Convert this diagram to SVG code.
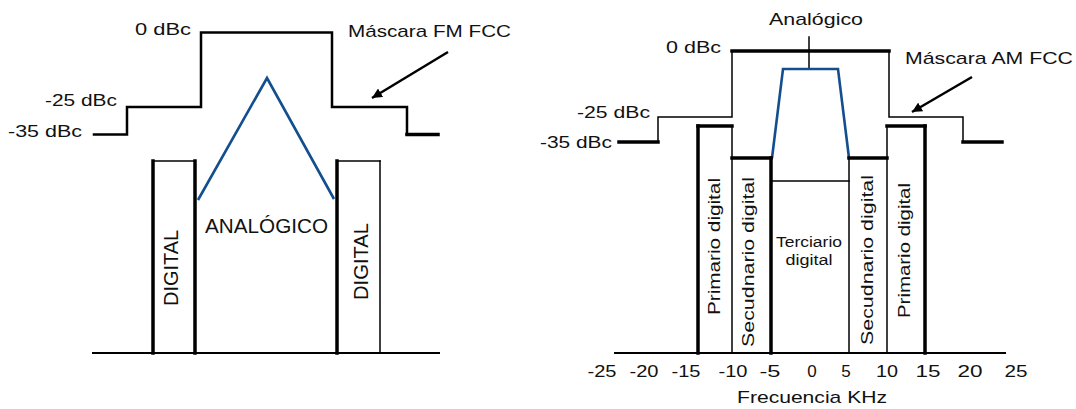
<svg xmlns="http://www.w3.org/2000/svg" width="1076" height="409" viewBox="0 0 1076 409">
  <style>
    text { font-family: "Liberation Sans", Arial, sans-serif; fill: #111; }
    .lbl { font-size: 17px; }
    .big { font-size: 20px; }
    .sm { font-size: 14px; }
    .ln { fill: none; stroke: #000; stroke-linecap: square; }
    .thin { stroke-width: 1.5; }
    .mid { stroke-width: 2.5; }
    .thick { stroke-width: 3.5; }
    .blue { fill: none; stroke: #134f8f; stroke-width: 2.6; stroke-linejoin: miter; }
    .arrow { fill: none; stroke: #000; stroke-width: 2.5; marker-end: url(#ah); }
  </style>
  <defs>
    <marker id="ah" markerUnits="userSpaceOnUse" markerWidth="12" markerHeight="10" refX="10" refY="5" orient="auto">
      <path d="M0,0 L10,5 L0,10 Z" fill="#000"/>
    </marker>
  </defs>
  <rect width="1076" height="409" fill="#fff"/>

  <!-- LEFT: FM hybrid -->
  <g id="fm-mask">
    <polyline class="ln mid" points="94,134.5 127,134.5 127,107 201,107 201,32.5 332,32.5 332,107 407,107 407,134.5"/>
    <line class="ln thick" x1="407" y1="134.5" x2="438" y2="134.5"/>
  </g>
  <g id="fm-labels">
    <text class="lbl" x="135" y="35" textLength="56" lengthAdjust="spacingAndGlyphs">0 dBc</text>
    <text class="lbl" x="45" y="106" textLength="72" lengthAdjust="spacingAndGlyphs">-25 dBc</text>
    <text class="lbl" x="8" y="137" textLength="74" lengthAdjust="spacingAndGlyphs">-35 dBc</text>
    <text class="lbl" x="348" y="37" textLength="163" lengthAdjust="spacingAndGlyphs">Máscara FM FCC</text>
  </g>
  <g id="fm-digital-left">
    <line class="ln thin" x1="153" y1="161" x2="195" y2="161"/>
    <line class="ln thick" x1="153" y1="161" x2="153" y2="353"/>
    <line class="ln thick" x1="195" y1="161" x2="195" y2="353"/>
    <text class="big" transform="translate(178,268) rotate(-90)" text-anchor="middle" textLength="76" lengthAdjust="spacingAndGlyphs">DIGITAL</text>
  </g>
  <g id="fm-digital-right">
    <line class="ln thin" x1="337" y1="161" x2="380" y2="161"/>
    <line class="ln thick" x1="337" y1="161" x2="337" y2="353"/>
    <line class="ln thin" x1="380" y1="161" x2="380" y2="353"/>
    <text class="big" transform="translate(368,261.5) rotate(-90)" text-anchor="middle" textLength="77" lengthAdjust="spacingAndGlyphs">DIGITAL</text>
  </g>
  <g id="fm-analog">
    <polyline class="blue" points="198,200 267,78 334,199"/>
    <text class="big" x="205" y="233" textLength="123" lengthAdjust="spacingAndGlyphs">ANALÓGICO</text>
  </g>
  <g id="fm-axis">
    <line class="ln" stroke-width="2" x1="93" y1="353" x2="439" y2="353"/>
  </g>

  <!-- RIGHT: AM hybrid -->
  <g id="am-mask">
    <line class="ln thick" x1="619" y1="142" x2="658" y2="142"/>
    <polyline class="ln thin" points="658,142 658,117 732,117 732,51"/>
    <line class="ln thick" x1="732" y1="51" x2="889" y2="51"/>
    <polyline class="ln thin" points="889,51 889,117 963,117 963,142"/>
    <line class="ln thick" x1="963" y1="142" x2="1002" y2="142"/>
  </g>
  <g id="am-labels">
    <text class="lbl" x="666" y="53" textLength="55" lengthAdjust="spacingAndGlyphs">0 dBc</text>
    <text class="lbl" x="577" y="118" textLength="73" lengthAdjust="spacingAndGlyphs">-25 dBc</text>
    <text class="lbl" x="540" y="148" textLength="72" lengthAdjust="spacingAndGlyphs">-35 dBc</text>
    <text class="lbl" x="905" y="64" textLength="168" lengthAdjust="spacingAndGlyphs">Máscara AM FCC</text>
  </g>
  <g id="am-analog">
    <line class="ln thin" x1="809" y1="37" x2="809" y2="69"/>
    <polyline class="blue" stroke-width="3" points="772,158 783,69 838,69 849,158"/>
    <text class="lbl" x="769" y="25" textLength="94" lengthAdjust="spacingAndGlyphs">Analógico</text>
  </g>
  <g id="am-primario-left">
    <line class="ln thick" x1="698" y1="126" x2="698" y2="353"/>
    <line class="ln thick" x1="698" y1="126" x2="732" y2="126"/>
    <line class="ln thin" x1="732" y1="126" x2="732" y2="353"/>
    <text class="lbl" transform="translate(720,246.5) rotate(-90)" text-anchor="middle" textLength="137" lengthAdjust="spacingAndGlyphs">Primario digital</text>
  </g>
  <g id="am-secundario-left">
    <line class="ln thick" x1="732" y1="158" x2="771" y2="158"/>
    <line class="ln thick" x1="771" y1="158" x2="771" y2="353"/>
    <text class="lbl" transform="translate(754,262) rotate(-90)" text-anchor="middle" textLength="170" lengthAdjust="spacingAndGlyphs">Secudnario digital</text>
  </g>
  <g id="am-terciario">
    <line class="ln thin" x1="771" y1="181" x2="849" y2="181"/>
    <text class="sm" x="809" y="247" text-anchor="middle" textLength="66" lengthAdjust="spacingAndGlyphs">Terciario</text>
    <text class="sm" x="809" y="265" text-anchor="middle" textLength="47" lengthAdjust="spacingAndGlyphs">digital</text>
  </g>
  <g id="am-secundario-right">
    <line class="ln thin" x1="849" y1="158" x2="849" y2="353"/>
    <line class="ln thick" x1="849" y1="158" x2="887" y2="158"/>
    <text class="lbl" transform="translate(873,260) rotate(-90)" text-anchor="middle" textLength="170" lengthAdjust="spacingAndGlyphs">Secudnario digital</text>
  </g>
  <g id="am-primario-right">
    <line class="ln thin" x1="887" y1="126" x2="887" y2="353"/>
    <line class="ln thick" x1="887" y1="126" x2="925" y2="126"/>
    <line class="ln thick" x1="925" y1="126" x2="925" y2="353"/>
    <text class="lbl" transform="translate(910,250.5) rotate(-90)" text-anchor="middle" textLength="135" lengthAdjust="spacingAndGlyphs">Primario digital</text>
  </g>
  <g id="am-axis">
    <line class="ln" stroke-width="2" x1="615" y1="353" x2="1005" y2="353"/>
    <g class="lbl" text-anchor="middle">
      <text x="602" y="377" textLength="29" lengthAdjust="spacingAndGlyphs">-25</text>
      <text x="644" y="377" textLength="29" lengthAdjust="spacingAndGlyphs">-20</text>
      <text x="686" y="377" textLength="29" lengthAdjust="spacingAndGlyphs">-15</text>
      <text x="733" y="377" textLength="29" lengthAdjust="spacingAndGlyphs">-10</text>
      <text x="770" y="377" textLength="21" lengthAdjust="spacingAndGlyphs">-5</text>
      <text x="812" y="377">0</text>
      <text x="846" y="377">5</text>
      <text x="887" y="377" textLength="22" lengthAdjust="spacingAndGlyphs">10</text>
      <text x="928" y="377" textLength="25" lengthAdjust="spacingAndGlyphs">15</text>
      <text x="970" y="377" textLength="25" lengthAdjust="spacingAndGlyphs">20</text>
      <text x="1016" y="377" textLength="23" lengthAdjust="spacingAndGlyphs">25</text>
    </g>
    <text class="lbl" x="737" y="403" textLength="150" lengthAdjust="spacingAndGlyphs">Frecuencia KHz</text>
  </g>

  <g id="connectors">
    <line class="arrow" x1="448" y1="52" x2="372" y2="98"/>
    <line class="arrow" x1="972" y1="77" x2="912" y2="112"/>
  </g>
</svg>
